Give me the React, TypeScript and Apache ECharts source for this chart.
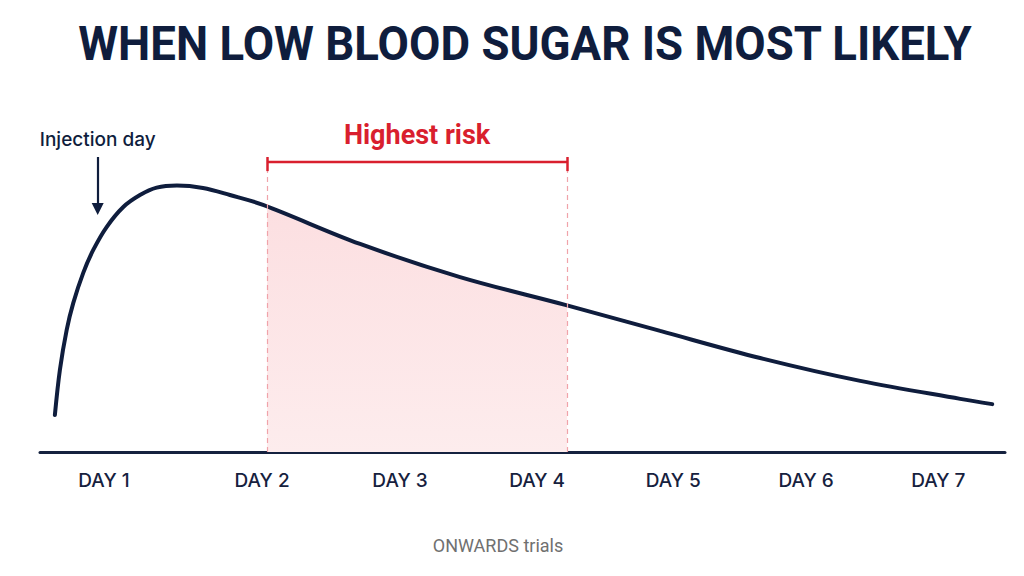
import React, { useEffect, useRef } from "react";
import * as echarts from "echarts";

const titleText = "WHEN LOW BLOOD SUGAR IS MOST LIKELY";
const footerText = "ONWARDS trials";
const riskLabel = "Highest risk";
const injectionLabel = "Injection day";

const dayLabels = ["DAY 1", "DAY 2", "DAY 3", "DAY 4", "DAY 5", "DAY 6", "DAY 7"];
const dayLabelPositions = [1, 2.137, 3.129, 4.115, 5.094, 6.05, 7];

const curveDays = [0.647, 0.683, 0.732, 0.779, 0.851, 0.923, 1.019, 1.139, 1.259, 1.379, 1.525, 1.712, 1.906, 2.144, 2.842, 3.561, 4.317, 5.0, 5.719, 6.439, 7.158, 7.388];
const curveLevels = [10.5, 23.3, 34.7, 42.3, 50.9, 57.4, 63.9, 69.6, 73.0, 75.1, 75.7, 75.0, 73.0, 70.2, 59.1, 49.7, 41.8, 34.4, 26.7, 20.2, 15.1, 13.6];

const riskAreaDays = [2.173, 2.842, 3.561, 4.331];
const riskAreaLevels = [69.7, 59.1, 49.7, 41.6];

const riskStartDay = 2.173;
const riskEndDay = 4.331;
const riskMidDay = 3.252;
const bracketLevel = 82.4;
const bracketTickTop = 83.8;
const bracketTickBottom = 79.8;

const injectionDay = 0.955;
const injectionArrowTop = 83.8;
const injectionArrowHead = 69.0;

const NAVY = "#0f1d3d";
const RED = "#d91f2e";

export default function App() {
  const ref = useRef<HTMLDivElement>(null);
  useEffect(() => {
    const chart = echarts.init(ref.current!, null, { renderer: "svg" });
    const curve = curveDays.map((d, i) => [d, curveLevels[i]]);
    const area = riskAreaDays.map((d, i) => [d, riskAreaLevels[i]]);
    chart.setOption({
      animation: false,
      backgroundColor: "#ffffff",
      grid: { left: 40, right: 19, top: 100, bottom: 124 },
      xAxis: {
        type: "value",
        min: 0.54,
        max: 7.48,
        splitLine: { show: false },
        axisTick: { show: false },
        axisLine: { show: true, lineStyle: { color: "#15223f", width: 3 } },
        axisLabel: {
          customValues: dayLabelPositions,
          formatter: (v: number) => dayLabels[dayLabelPositions.indexOf(v)] ?? "",
          fontSize: 19,
          fontFamily: "Inter",
          fontWeight: 500,
          color: "#16213e",
          margin: 19,
        },
      },
      yAxis: { type: "value", min: 0, max: 100, show: false },
      graphic: [
        {
          type: "text",
          x: 525,
          y: 44,
          scaleX: 0.95,
          style: {
            text: titleText,
            fontFamily: "Roboto",
            fontWeight: "bold",
            fontSize: 48,
            fill: NAVY,
            textAlign: "center",
            textVerticalAlign: "middle",
          },
        },
        {
          type: "text",
          x: 498,
          y: 545,
          style: {
            text: footerText,
            fontFamily: "Roboto",
            fontSize: 18,
            fill: "#707070",
            textAlign: "center",
            textVerticalAlign: "middle",
          },
        },
      ],
      series: [
        {
          type: "line",
          data: area,
          smooth: 0.3,
          symbol: "none",
          lineStyle: { width: 0 },
          areaStyle: {
            color: new echarts.graphic.LinearGradient(0, 0, 0, 1, [
              { offset: 0, color: "#fcdfe1" },
              { offset: 1, color: "#fdeced" },
            ]),
            opacity: 1,
          },
          silent: true,
          markLine: {
            silent: true,
            symbol: "none",
            lineStyle: { color: "#f0a3aa", width: 1.2, type: [5, 4] },
            label: { show: false },
            data: [
              [{ coord: [riskStartDay, 0] }, { coord: [riskStartDay, bracketTickBottom] }],
              [{ coord: [riskEndDay, 0] }, { coord: [riskEndDay, bracketTickBottom] }],
            ],
          },
          z: 1,
        },
        {
          type: "line",
          data: [
            [riskStartDay, bracketLevel],
            [riskEndDay, bracketLevel],
          ],
          symbol: "none",
          lineStyle: { color: RED, width: 2.5 },
          silent: true,
          markLine: {
            silent: true,
            symbol: "none",
            lineStyle: { color: RED, width: 2.5, type: "solid" },
            label: { show: false },
            data: [
              [{ coord: [riskStartDay, bracketTickTop] }, { coord: [riskStartDay, bracketTickBottom] }],
              [{ coord: [riskEndDay, bracketTickTop] }, { coord: [riskEndDay, bracketTickBottom] }],
            ],
          },
          markPoint: {
            silent: true,
            data: [
              {
                coord: [riskMidDay, bracketLevel],
                symbol: "circle",
                symbolSize: 0,
                label: {
                  show: true,
                  formatter: riskLabel,
                  position: "top",
                  distance: 13,
                  color: RED,
                  fontFamily: "Roboto",
                  fontWeight: "bold",
                  fontSize: 27,
                },
              },
            ],
          },
          z: 3,
        },
        {
          type: "line",
          data: curve,
          smooth: 0.35,
          symbol: "none",
          lineStyle: { color: NAVY, width: 4, cap: "round" },
          silent: true,
          markLine: {
            silent: true,
            symbol: ["none", "triangle"],
            symbolSize: 12,
            lineStyle: { color: NAVY, width: 2.2, type: "solid" },
            itemStyle: { color: NAVY },
            label: {
              show: true,
              position: "start",
              formatter: injectionLabel,
              color: NAVY,
              fontFamily: "Inter",
              fontWeight: 500,
              fontSize: 19,
              distance: 8,
            },
            data: [
              [
                { coord: [injectionDay, injectionArrowTop], symbol: "none" },
                { coord: [injectionDay, injectionArrowHead], symbol: "triangle", symbolSize: 12 },
              ],
            ],
          },
          z: 4,
        },
      ],
    });
    return () => chart.dispose();
  }, []);
  return (
    <div
      ref={ref}
      style={{ position: "fixed", left: 0, top: 0, width: 1024, height: 576, background: "#fff" }}
    />
  );
}
